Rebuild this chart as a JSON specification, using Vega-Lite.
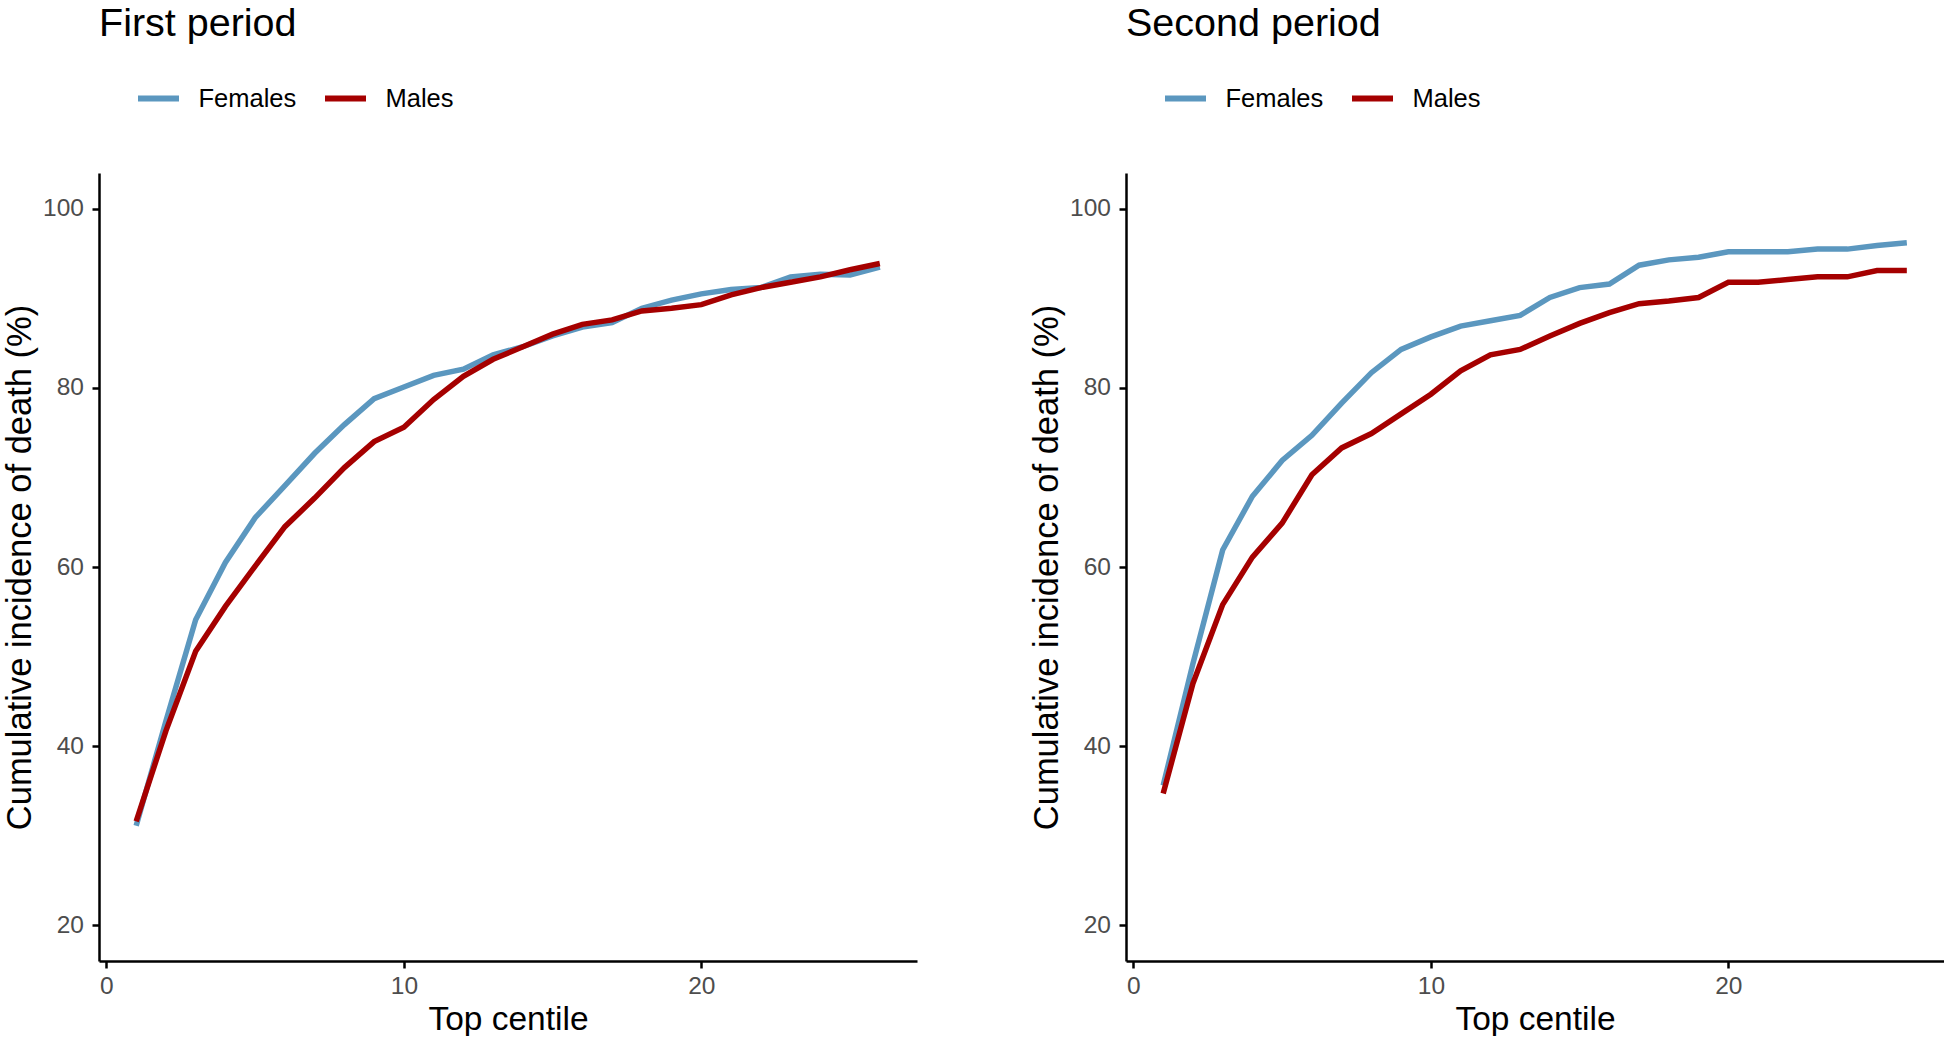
{
  "$schema": "https://vega.github.io/schema/vega-lite/v6.json",
  "background": "white",
  "autosize": {"type": "pad"},
  "padding": {"left": 2, "top": 3, "right": 0, "bottom": 0},
  "spacing": 112,
  "datasets": {
    "cuminc": [
      {"period": "First period", "sex": "Females", "centile": 1, "value": 31.1},
      {"period": "First period", "sex": "Females", "centile": 2, "value": 42.8},
      {"period": "First period", "sex": "Females", "centile": 3, "value": 54.1},
      {"period": "First period", "sex": "Females", "centile": 4, "value": 60.5},
      {"period": "First period", "sex": "Females", "centile": 5, "value": 65.5},
      {"period": "First period", "sex": "Females", "centile": 6, "value": 69.1},
      {"period": "First period", "sex": "Females", "centile": 7, "value": 72.7},
      {"period": "First period", "sex": "Females", "centile": 8, "value": 75.9},
      {"period": "First period", "sex": "Females", "centile": 9, "value": 78.8},
      {"period": "First period", "sex": "Females", "centile": 10, "value": 80.1},
      {"period": "First period", "sex": "Females", "centile": 11, "value": 81.4},
      {"period": "First period", "sex": "Females", "centile": 12, "value": 82.1},
      {"period": "First period", "sex": "Females", "centile": 13, "value": 83.7},
      {"period": "First period", "sex": "Females", "centile": 14, "value": 84.6},
      {"period": "First period", "sex": "Females", "centile": 15, "value": 85.8},
      {"period": "First period", "sex": "Females", "centile": 16, "value": 86.8},
      {"period": "First period", "sex": "Females", "centile": 17, "value": 87.3},
      {"period": "First period", "sex": "Females", "centile": 18, "value": 88.9},
      {"period": "First period", "sex": "Females", "centile": 19, "value": 89.8},
      {"period": "First period", "sex": "Females", "centile": 20, "value": 90.5},
      {"period": "First period", "sex": "Females", "centile": 21, "value": 91.0},
      {"period": "First period", "sex": "Females", "centile": 22, "value": 91.2},
      {"period": "First period", "sex": "Females", "centile": 23, "value": 92.4},
      {"period": "First period", "sex": "Females", "centile": 24, "value": 92.7},
      {"period": "First period", "sex": "Females", "centile": 25, "value": 92.6},
      {"period": "First period", "sex": "Females", "centile": 26, "value": 93.5},
      {"period": "First period", "sex": "Males", "centile": 1, "value": 31.6},
      {"period": "First period", "sex": "Males", "centile": 2, "value": 41.7},
      {"period": "First period", "sex": "Males", "centile": 3, "value": 50.6},
      {"period": "First period", "sex": "Males", "centile": 4, "value": 55.6},
      {"period": "First period", "sex": "Males", "centile": 5, "value": 60.1},
      {"period": "First period", "sex": "Males", "centile": 6, "value": 64.5},
      {"period": "First period", "sex": "Males", "centile": 7, "value": 67.7},
      {"period": "First period", "sex": "Males", "centile": 8, "value": 71.1},
      {"period": "First period", "sex": "Males", "centile": 9, "value": 74.0},
      {"period": "First period", "sex": "Males", "centile": 10, "value": 75.6},
      {"period": "First period", "sex": "Males", "centile": 11, "value": 78.7},
      {"period": "First period", "sex": "Males", "centile": 12, "value": 81.3},
      {"period": "First period", "sex": "Males", "centile": 13, "value": 83.2},
      {"period": "First period", "sex": "Males", "centile": 14, "value": 84.6},
      {"period": "First period", "sex": "Males", "centile": 15, "value": 86.0},
      {"period": "First period", "sex": "Males", "centile": 16, "value": 87.1},
      {"period": "First period", "sex": "Males", "centile": 17, "value": 87.6},
      {"period": "First period", "sex": "Males", "centile": 18, "value": 88.6},
      {"period": "First period", "sex": "Males", "centile": 19, "value": 88.9},
      {"period": "First period", "sex": "Males", "centile": 20, "value": 89.3},
      {"period": "First period", "sex": "Males", "centile": 21, "value": 90.4},
      {"period": "First period", "sex": "Males", "centile": 22, "value": 91.2},
      {"period": "First period", "sex": "Males", "centile": 23, "value": 91.8},
      {"period": "First period", "sex": "Males", "centile": 24, "value": 92.4},
      {"period": "First period", "sex": "Males", "centile": 25, "value": 93.2},
      {"period": "First period", "sex": "Males", "centile": 26, "value": 93.9},
      {"period": "Second period", "sex": "Females", "centile": 1, "value": 35.6},
      {"period": "Second period", "sex": "Females", "centile": 2, "value": 49.2},
      {"period": "Second period", "sex": "Females", "centile": 3, "value": 61.9},
      {"period": "Second period", "sex": "Females", "centile": 4, "value": 67.9},
      {"period": "Second period", "sex": "Females", "centile": 5, "value": 71.9},
      {"period": "Second period", "sex": "Females", "centile": 6, "value": 74.7},
      {"period": "Second period", "sex": "Females", "centile": 7, "value": 78.3},
      {"period": "Second period", "sex": "Females", "centile": 8, "value": 81.7},
      {"period": "Second period", "sex": "Females", "centile": 9, "value": 84.3},
      {"period": "Second period", "sex": "Females", "centile": 10, "value": 85.7},
      {"period": "Second period", "sex": "Females", "centile": 11, "value": 86.9},
      {"period": "Second period", "sex": "Females", "centile": 12, "value": 87.5},
      {"period": "Second period", "sex": "Females", "centile": 13, "value": 88.1},
      {"period": "Second period", "sex": "Females", "centile": 14, "value": 90.1},
      {"period": "Second period", "sex": "Females", "centile": 15, "value": 91.2},
      {"period": "Second period", "sex": "Females", "centile": 16, "value": 91.6},
      {"period": "Second period", "sex": "Females", "centile": 17, "value": 93.7},
      {"period": "Second period", "sex": "Females", "centile": 18, "value": 94.3},
      {"period": "Second period", "sex": "Females", "centile": 19, "value": 94.6},
      {"period": "Second period", "sex": "Females", "centile": 20, "value": 95.2},
      {"period": "Second period", "sex": "Females", "centile": 21, "value": 95.2},
      {"period": "Second period", "sex": "Females", "centile": 22, "value": 95.2},
      {"period": "Second period", "sex": "Females", "centile": 23, "value": 95.5},
      {"period": "Second period", "sex": "Females", "centile": 24, "value": 95.5},
      {"period": "Second period", "sex": "Females", "centile": 25, "value": 95.9},
      {"period": "Second period", "sex": "Females", "centile": 26, "value": 96.2},
      {"period": "Second period", "sex": "Males", "centile": 1, "value": 34.7},
      {"period": "Second period", "sex": "Males", "centile": 2, "value": 47.0},
      {"period": "Second period", "sex": "Males", "centile": 3, "value": 55.8},
      {"period": "Second period", "sex": "Males", "centile": 4, "value": 61.1},
      {"period": "Second period", "sex": "Males", "centile": 5, "value": 64.9},
      {"period": "Second period", "sex": "Males", "centile": 6, "value": 70.3},
      {"period": "Second period", "sex": "Males", "centile": 7, "value": 73.3},
      {"period": "Second period", "sex": "Males", "centile": 8, "value": 74.9},
      {"period": "Second period", "sex": "Males", "centile": 9, "value": 77.1},
      {"period": "Second period", "sex": "Males", "centile": 10, "value": 79.3},
      {"period": "Second period", "sex": "Males", "centile": 11, "value": 81.9},
      {"period": "Second period", "sex": "Males", "centile": 12, "value": 83.7},
      {"period": "Second period", "sex": "Males", "centile": 13, "value": 84.3},
      {"period": "Second period", "sex": "Males", "centile": 14, "value": 85.8},
      {"period": "Second period", "sex": "Males", "centile": 15, "value": 87.2},
      {"period": "Second period", "sex": "Males", "centile": 16, "value": 88.4},
      {"period": "Second period", "sex": "Males", "centile": 17, "value": 89.4},
      {"period": "Second period", "sex": "Males", "centile": 18, "value": 89.7},
      {"period": "Second period", "sex": "Males", "centile": 19, "value": 90.1},
      {"period": "Second period", "sex": "Males", "centile": 20, "value": 91.8},
      {"period": "Second period", "sex": "Males", "centile": 21, "value": 91.8},
      {"period": "Second period", "sex": "Males", "centile": 22, "value": 92.1},
      {"period": "Second period", "sex": "Males", "centile": 23, "value": 92.4},
      {"period": "Second period", "sex": "Males", "centile": 24, "value": 92.4},
      {"period": "Second period", "sex": "Males", "centile": 25, "value": 93.1},
      {"period": "Second period", "sex": "Males", "centile": 26, "value": 93.1}
    ]
  },
  "config": {
    "font": "Liberation Sans",
    "view": {"stroke": null},
    "axis": {
      "grid": false,
      "domainColor": "black", "domainWidth": 2.5,
      "tickColor": "black", "tickWidth": 2.5, "tickSize": 7,
      "labelColor": "#4d4d4d", "labelFontSize": 24.5, "labelPadding": 6,
      "titleFontSize": 33.5, "titleFontWeight": "normal", "titleColor": "black"
    },
    "axisY": {"titleFontSize": 34.5, "labelPadding": 8.5},
    "legend": {
      "orient": "none", "direction": "horizontal",
      "legendX": 36, "legendY": -98,
      "symbolType": "stroke", "symbolStrokeWidth": 6, "symbolSize": 1681,
      "labelFontSize": 25.5, "labelColor": "black", "labelOffset": 16.5,
      "columnPadding": 16, "padding": 0, "title": null
    },
    "title": {"fontSize": 39.5, "fontWeight": "normal", "anchor": "start", "frame": "group", "color": "black", "offset": 31}
  },
  "resolve": {"scale": {"color": "independent"}, "legend": {"color": "independent"}},
  "hconcat": [
    {
      "title": "First period",
      "width": 818, "height": 788,
      "data": {"name": "cuminc"},
      "transform": [{"filter": "datum.period == 'First period'"}],
      "mark": {"type": "line", "strokeWidth": 5.5, "strokeCap": "butt"},
      "encoding": {
        "x": {"field": "centile", "type": "quantitative",
              "scale": {"domain": [-0.25, 27.25], "nice": false, "zero": false},
              "axis": {"values": [0, 10, 20], "title": "Top centile", "titlePadding": 6}},
        "y": {"field": "value", "type": "quantitative",
              "scale": {"domain": [16, 104], "nice": false, "zero": false},
              "axis": {"values": [20, 40, 60, 80, 100], "title": "Cumulative incidence of death (%)", "titlePadding": 5.5}},
        "color": {"field": "sex", "type": "nominal",
                  "scale": {"domain": ["Females", "Males"], "range": ["#5b97bf", "#a50000"]}}
      }
    },
    {
      "title": "Second period",
      "width": 818, "height": 788,
      "data": {"name": "cuminc"},
      "transform": [{"filter": "datum.period == 'Second period'"}],
      "mark": {"type": "line", "strokeWidth": 5.5, "strokeCap": "butt"},
      "encoding": {
        "x": {"field": "centile", "type": "quantitative",
              "scale": {"domain": [-0.25, 27.25], "nice": false, "zero": false},
              "axis": {"values": [0, 10, 20], "title": "Top centile", "titlePadding": 6}},
        "y": {"field": "value", "type": "quantitative",
              "scale": {"domain": [16, 104], "nice": false, "zero": false},
              "axis": {"values": [20, 40, 60, 80, 100], "title": "Cumulative incidence of death (%)", "titlePadding": 5.5}},
        "color": {"field": "sex", "type": "nominal",
                  "scale": {"domain": ["Females", "Males"], "range": ["#5b97bf", "#a50000"]}}
      }
    }
  ]
}
